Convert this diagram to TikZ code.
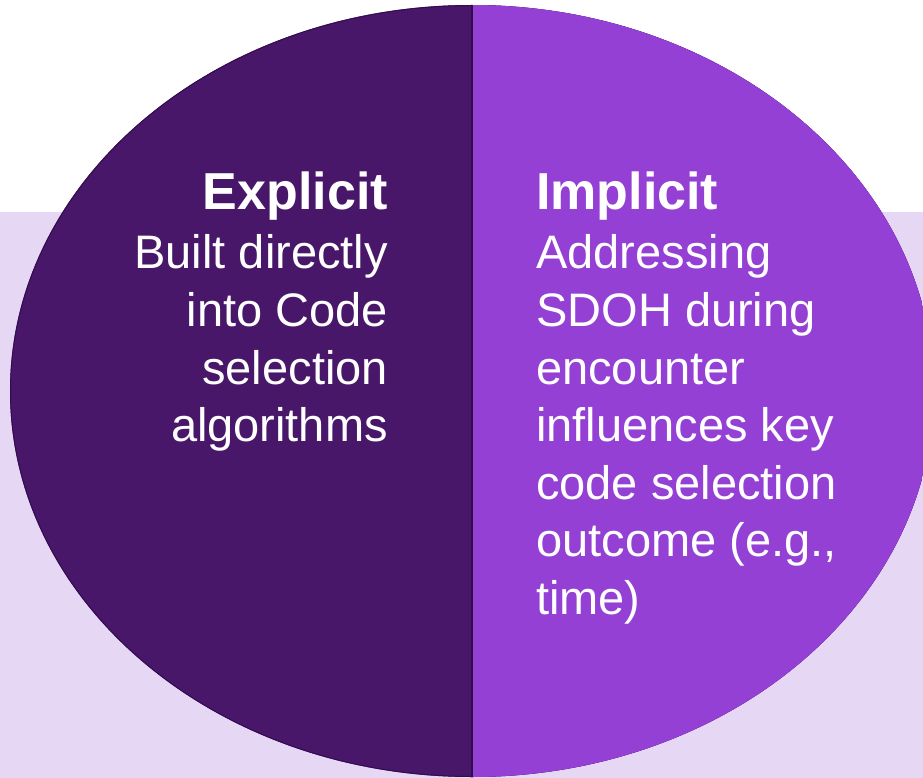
\documentclass[tikz,border=0pt]{standalone}
\usepackage{fontspec}
\setmainfont{Liberation Sans}
\definecolor{darkpurple}{HTML}{481769}
\definecolor{brightpurple}{HTML}{9440D5}
\definecolor{lavender}{HTML}{E6D7F5}
\definecolor{edgepurple}{HTML}{330C50}
\tikzset{
  bodytext/.style={text=white, inner sep=0pt, font=\fontsize{47}{57.7}\selectfont},
  titlefont/.style={font=\bfseries\fontsize{52}{57.7}\selectfont}
}
\begin{document}
\begin{tikzpicture}[x=1pt,y=-1pt]
\useasboundingbox (0,0) rectangle (923,778);
\fill[white] (0,0) rectangle (923,778);
\fill[lavender] (0,212) rectangle (923,778);
\begin{scope}
  \clip (472,391) ellipse [x radius=462, y radius=386];
  \fill[darkpurple] (0,0) rectangle (472,778);
  \fill[brightpurple] (472,0) rectangle (923,778);
  \draw[edgepurple, line width=2pt] (472,391) ellipse [x radius=462, y radius=386];
  \fill[brightpurple] (473,0) rectangle (923,778);
  \draw[edgepurple, line width=1.2pt] (472,0) -- (472,778);
\end{scope}
\node[bodytext, titlefont, anchor=base east] (ltitle) at (388,210) {Explicit};
\node[bodytext, titlefont, anchor=base west] (rtitle) at (536,210) {Implicit};
\node[bodytext, anchor=base east] (l1) at (388,268) {Built directly};
\node[bodytext, anchor=base east] (l2) at (388,326) {into Code};
\node[bodytext, anchor=base east] (l3) at (388,384) {selection};
\node[bodytext, anchor=base east] (l4) at (388,441) {algorithms};
\node[bodytext, anchor=base west] (r1) at (536,268) {Addressing};
\node[bodytext, anchor=base west] (r2) at (536,326) {SDOH during};
\node[bodytext, anchor=base west] (r3) at (536,384) {encounter};
\node[bodytext, anchor=base west] (r4) at (536,441) {influences key};
\node[bodytext, anchor=base west] (r5) at (536,499) {code selection};
\node[bodytext, anchor=base west] (r6) at (536,556) {outcome (e.g.,};
\node[bodytext, anchor=base west] (r7) at (536,614) {time)};
\end{tikzpicture}
\end{document}
